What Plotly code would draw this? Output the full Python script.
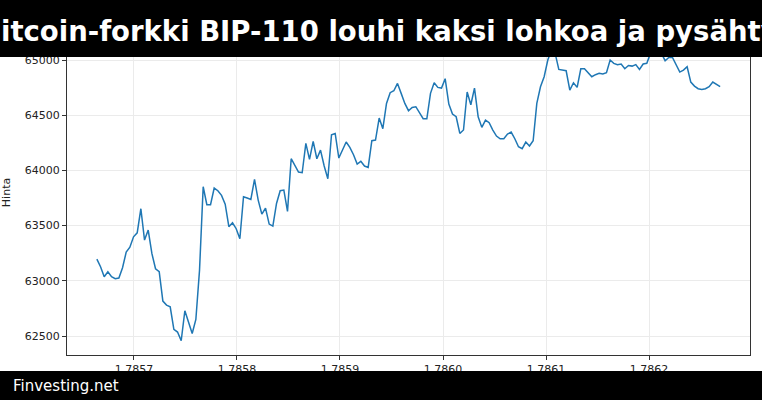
import numpy as np
import plotly.graph_objects as go

TITLE = "Bitcoin-forkki BIP-110 louhi kaksi lohkoa ja pysähtyi"
SOURCE = "Finvesting.net"

# hinnat aikajärjestyksessä (luettu kuvasta)
prices = [
    63197, 63127, 63037, 63082, 63037, 63019, 63025, 63118, 63260, 63305,
    63399, 63435, 63653, 63369, 63460, 63248, 63109, 63082, 62816, 62780,
    62765, 62560, 62536, 62457, 62729, 62629, 62523, 62650, 63097, 63852,
    63689, 63689, 63840, 63816, 63774, 63695, 63490, 63526, 63472, 63381,
    63762, 63750, 63737, 63919, 63731, 63604, 63659, 63514, 63496, 63701,
    63816, 63822, 63629, 64106, 64040, 63985, 63979, 64245, 64100, 64263,
    64106, 64184, 64040, 63925, 64323, 64335, 64112, 64184, 64257, 64209,
    64142, 64058, 64082, 64040, 64027, 64269, 64275, 64474, 64378, 64607,
    64704, 64722, 64788, 64698, 64607, 64541, 64571, 64577, 64517, 64468,
    64468, 64698, 64794, 64752, 64746, 64831, 64601, 64511, 64486, 64335,
    64366, 64710, 64595, 64746, 64486, 64390, 64456, 64432, 64366, 64311,
    64287, 64287, 64329, 64347, 64287, 64215, 64197, 64257, 64221, 64269,
    64607, 64758, 64849, 65000, 65090, 65060, 64915, 64909, 64903, 64728,
    64794, 64752, 64921, 64921, 64885, 64849, 64867, 64879, 64873, 64885,
    65000, 64970, 64958, 64964, 64921, 64951, 64945, 64958, 64915, 64964,
    64970, 65060, 65120, 65090, 65060, 64994, 65024, 65024, 64958, 64891,
    64909, 64939, 64800, 64764, 64740, 64734, 64740, 64758, 64800, 64776,
    64758,
]
x_start, x_end = 1.785664, 1.786269
times = np.linspace(x_start, x_end, len(prices))
x_ticks = [1.7857, 1.7858, 1.7859, 1.7860, 1.7861, 1.7862]

fig = go.Figure()
fig.add_trace(go.Scatter(
    x=times, y=prices, mode="lines",
    line=dict(color="#1f77b4", width=1.5),
))

axis_common = dict(
    showline=True, linecolor="#333", linewidth=1, mirror=True,
    showgrid=True, gridcolor="#ebebeb", ticks="outside", ticklen=4,
    tickcolor="#333", zeroline=False, automargin=False,
    tickfont=dict(family="DejaVu Sans", size=11, color="#222"),
)
fig.update_layout(
    width=762, height=400,
    margin=dict(l=67, r=12, t=30, b=45),
    paper_bgcolor="white", plot_bgcolor="white",
    showlegend=False,
    xaxis=dict(range=[1.785635, 1.786298], tickvals=x_ticks,
               tickformat=".4f", **axis_common),
    yaxis=dict(range=[62328, 65272], dtick=500, tickformat="d",
               title=dict(text="Hinta", font=dict(family="DejaVu Sans", size=11, color="#222"),
                          standoff=12),
               **axis_common),
    shapes=[
        dict(type="rect", xref="paper", yref="paper", layer="above",
             x0=-1, x1=2, y0=1 - 27 / 325, y1=1 + 31 / 325,
             fillcolor="black", line=dict(width=0)),
        dict(type="rect", xref="paper", yref="paper", layer="above",
             x0=-1, x1=2, y0=-46 / 325, y1=-16 / 325,
             fillcolor="black", line=dict(width=0)),
    ],
    annotations=[
        dict(text=f"<b>{TITLE}</b>", xref="paper", yref="paper",
             x=(384 - 67) / 683, y=1 - 1 / 325, xanchor="center", yanchor="middle",
             showarrow=False, font=dict(family="DejaVu Sans", size=27.5, color="white")),
        dict(text=SOURCE, xref="paper", yref="paper",
             x=-56 / 683, y=-31 / 325, xanchor="left", yanchor="middle",
             showarrow=False, font=dict(family="DejaVu Sans", size=15, color="white")),
    ],
)

# selaimen oletusmarginaali pois, muuten kuva siirtyy 8 px
fig.write_html("out.html", config={"displayModeBar": False},
               post_script="document.body.style.margin='0';")
